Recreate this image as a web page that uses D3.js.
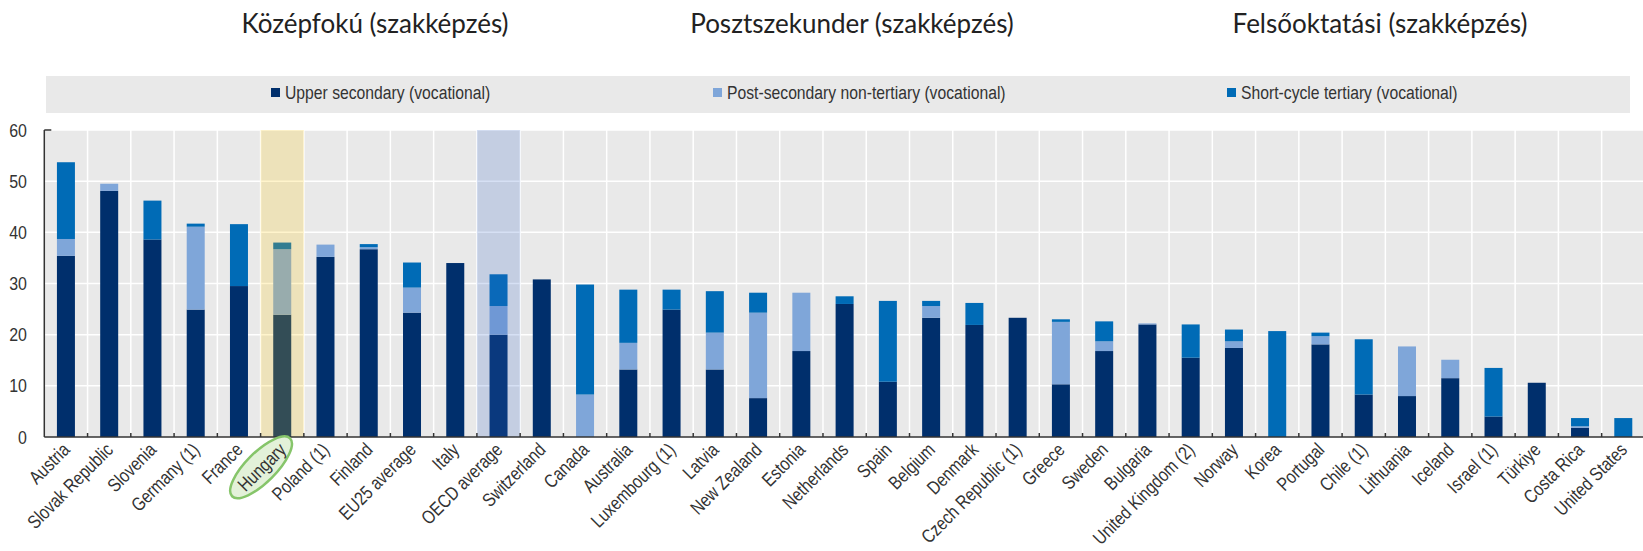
<!DOCTYPE html>
<html>
<head>
<meta charset="utf-8">
<script src="https://cdn.jsdelivr.net/npm/d3@7"></script>
<style>
  body { margin: 0; background: #fff; }
  .narrow { font-family: "Liberation Sans", Arial, sans-serif; fill: #333; }
  .title { font-family: Lato, "Noto Sans", sans-serif; fill: #222; }
</style>
</head>
<body>
<div class="canvas"></div>
<script>
const categories = ["Austria", "Slovak Republic", "Slovenia", "Germany (1)", "France", "Hungary", "Poland (1)", "Finland", "EU25 average", "Italy", "OECD average", "Switzerland", "Canada", "Australia", "Luxembourg (1)", "Latvia", "New Zealand", "Estonia", "Netherlands", "Spain", "Belgium", "Denmark", "Czech Republic (1)", "Greece", "Sweden", "Bulgaria", "United Kingdom (2)", "Norway", "Korea", "Portugal", "Chile (1)", "Lithuania", "Iceland", "Israel (1)", "Türkiye", "Costa Rica", "United States"];

const upperSecondary = [35.4, 48.1, 38.6, 24.9, 29.5, 23.9, 35.2, 36.7, 24.3, 34.0, 20.0, 30.8, 0, 13.2, 24.9, 13.2, 7.6, 16.8, 26.0, 10.8, 23.3, 21.9, 23.3, 10.3, 16.8, 22.0, 15.5, 17.4, 0, 18.1, 8.3, 8.0, 11.5, 4.0, 10.6, 1.8, 0];
const postSecondary = [3.3, 1.4, 0, 16.2, 0, 12.8, 2.4, 0.4, 4.9, 0, 5.6, 0, 8.3, 5.2, 0, 7.2, 16.7, 11.4, 0, 0, 2.3, 0, 0, 12.2, 1.9, 0.2, 0, 1.3, 0, 1.6, 0, 9.7, 3.6, 0, 0, 0.3, 0];
const shortCycle = [15.0, 0, 7.6, 0.6, 12.1, 1.3, 0, 0.6, 4.9, 0, 6.2, 0, 21.5, 10.4, 3.9, 8.1, 3.9, 0, 1.5, 15.8, 1.0, 4.3, 0, 0.5, 3.9, 0, 6.5, 2.3, 20.7, 0.7, 10.8, 0, 0, 9.5, 0, 1.6, 3.7];

const seriesNames = ["Upper secondary (vocational)", "Post-secondary non-tertiary (vocational)", "Short-cycle tertiary (vocational)"];
const seriesKeys = ["upper", "post", "short"];
const titles = ["Középfokú (szakképzés)", "Posztszekunder (szakképzés)", "Felsőoktatási (szakképzés)"];
const yTicks = [0, 10, 20, 30, 40, 50, 60];

const dims = { width: 1643, height: 551 };
const plot = { left: 44.3, top: 130, bottom: 437, step: 43.26 };

const colour = d3.scaleOrdinal().domain(seriesKeys).range(["#002f6c", "#7fa6d9", "#006bb6"]);

const svg = d3.select(".canvas").append("svg")
  .attr("width", dims.width)
  .attr("height", dims.height);

// scales
const x = d3.scaleBand()
  .domain(categories)
  .range([plot.left, plot.left + plot.step * categories.length])
  .padding(0);

const y = d3.scaleLinear().domain([0, 60]).range([plot.bottom, plot.top]);

const barWidth = 18;

// titles above the legend
const titleX = [375, 852, 1380];
svg.selectAll("text.title").data(titles).enter().append("text")
  .attr("class", "title")
  .attr("x", (d, i) => titleX[i])
  .attr("y", 33)
  .attr("text-anchor", "middle")
  .attr("font-size", 26)
  .text(d => d);

// legend box
svg.append("rect").attr("x", 46).attr("y", 76).attr("width", 1584).attr("height", 37).attr("fill", "#e9e9e9");
const legendX = [271, 713, 1227];
const legendItems = svg.selectAll("g.leg").data(seriesKeys).enter().append("g")
  .attr("transform", (d, i) => `translate(${legendX[i]}, 0)`);
legendItems.append("rect").attr("x", 0).attr("y", 88).attr("width", 9).attr("height", 9).attr("fill", d => colour(d));
// squeeze Liberation Sans to look like a narrow face
legendItems.append("text").attr("class", "narrow")
  .attr("transform", "translate(14, 99) scale(0.85, 1)")
  .attr("font-size", 18.5)
  .text((d, i) => seriesNames[i]);

// plot background
const plotRight = x.range()[1];
svg.append("rect")
  .attr("x", plot.left).attr("y", plot.top)
  .attr("width", plotRight - plot.left).attr("height", plot.bottom - plot.top)
  .attr("fill", "#e9e9e9");

// gridlines
svg.append("g").selectAll("line").data(yTicks.filter(d => d > 0)).enter().append("line")
  .attr("x1", plot.left).attr("x2", plotRight)
  .attr("y1", d => y(d)).attr("y2", d => y(d))
  .attr("stroke", "#fff").attr("stroke-width", 1.5);

svg.append("g").selectAll("line").data(categories.slice(1)).enter().append("line")
  .attr("x1", d => x(d)).attr("x2", d => x(d))
  .attr("y1", plot.top).attr("y2", plot.bottom)
  .attr("stroke", "#fff").attr("stroke-width", 1.5);

// stacked bars
const table = categories.map((c, i) => ({ name: c, upper: upperSecondary[i], post: postSecondary[i], short: shortCycle[i] }));
const stack = d3.stack().keys(seriesKeys)(table);

svg.append("g").selectAll("g").data(stack).enter().append("g")
  .attr("fill", d => colour(d.key))
  .selectAll("rect").data(d => d).enter().append("rect")
  .attr("x", d => x(d.data.name) + (x.bandwidth() - barWidth) / 2)
  .attr("width", barWidth)
  .attr("y", d => y(d[1]))
  .attr("height", d => Math.max(0, y(d[0]) - y(d[1])));

// highlight bands (Hungary, OECD average)
const highlights = [{ name: "Hungary", fill: "#ffc800" }, { name: "OECD average", fill: "#3264c8" }];
svg.append("g").selectAll("rect").data(highlights).enter().append("rect")
  .attr("x", d => x(d.name)).attr("width", x.bandwidth())
  .attr("y", plot.top).attr("height", plot.bottom - plot.top)
  .attr("fill", d => d.fill).attr("fill-opacity", 0.2);

// axes lines and ticks
svg.append("line").attr("x1", plot.left).attr("x2", plotRight).attr("y1", plot.bottom).attr("y2", plot.bottom)
  .attr("stroke", "#333").attr("stroke-width", 1.5);
svg.append("line").attr("x1", plot.left).attr("x2", plot.left).attr("y1", plot.top).attr("y2", plot.bottom)
  .attr("stroke", "#333").attr("stroke-width", 1.5);
svg.append("line").attr("x1", plot.left).attr("x2", plot.left + 7).attr("y1", plot.top).attr("y2", plot.top)
  .attr("stroke", "#333").attr("stroke-width", 1.5);
svg.append("g").selectAll("line").data(categories.slice(1)).enter().append("line")
  .attr("x1", d => x(d)).attr("x2", d => x(d))
  .attr("y1", plot.bottom - 4).attr("y2", plot.bottom)
  .attr("stroke", "#333").attr("stroke-width", 1.5);

// y labels
svg.append("g").selectAll("text").data(yTicks).enter().append("text")
  .attr("class", "narrow")
  .attr("transform", d => `translate(27, ${y(d)}) scale(0.84, 1)`)
  .attr("dy", "0.35em")
  .attr("text-anchor", "end")
  .attr("font-size", 19)
  .text(d => d);

// x labels
const labels = svg.append("g").selectAll("g").data(categories).enter().append("g")
  .attr("transform", d => `translate(${x(d) + x.bandwidth() / 2 + 5}, 451) rotate(-45)`);

labels.filter(d => d === "Hungary").append("ellipse")
  .attr("cx", -30).attr("cy", -7)
  .attr("rx", 41).attr("ry", 15)
  .attr("fill", "#e3f1d9").attr("stroke", "#86c56a").attr("stroke-width", 2.5);

labels.append("text")
  .attr("class", "narrow")
  .attr("transform", "scale(0.82, 1)")
  .attr("text-anchor", "end")
  .attr("font-size", 19)
  .text(d => d);
</script>
</body>
</html>
